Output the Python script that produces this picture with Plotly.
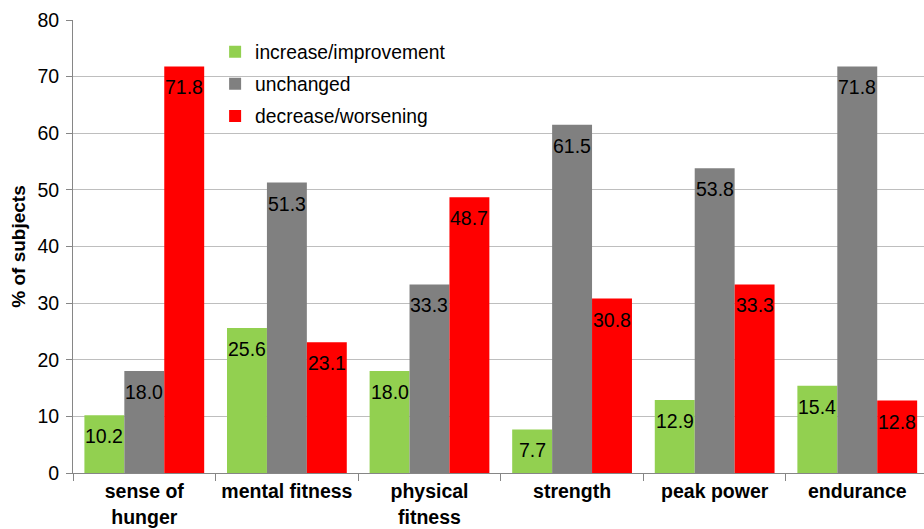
import plotly.graph_objects as go

categories = ["sense of<br>hunger", "mental fitness", "physical<br>fitness", "strength", "peak power", "endurance"]
increase = [10.2, 25.6, 18.0, 7.7, 12.9, 15.4]
unchanged = [18.0, 51.3, 33.3, 61.5, 53.8, 71.8]
decrease = [71.8, 23.1, 48.7, 30.8, 33.3, 12.8]
series_names = ["increase/improvement", "unchanged", "decrease/worsening"]
colors = ["#92D050", "#808080", "#FF0000"]
y_ticks = [0, 10, 20, 30, 40, 50, 60, 70, 80]

FONT = "Liberation Sans, Arial, sans-serif"
BARGAP = 0.16

fig = go.Figure()
all_series = [increase, unchanged, decrease]
for name, vals, col in zip(series_names, all_series, colors):
    fig.add_trace(go.Bar(
        x=categories, y=vals, name=name, marker=dict(color=col, line=dict(width=0)),
        legendgroup=name,
    ))

# data labels placed inside the top of each bar
n = len(all_series)
w = (1 - BARGAP) / n
annotations = []
for s, vals in enumerate(all_series):
    for i, v in enumerate(vals):
        annotations.append(dict(
            x=i + (s - (n - 1) / 2) * w, y=v, xref="x", yref="y",
            text=f"{v:.1f}", showarrow=False, yanchor="middle", yshift=-21,
            font=dict(size=19.5, color="black", family=FONT),
        ))

fig.update_layout(
    width=924, height=529,
    margin=dict(l=73, r=0, t=20, b=56),
    paper_bgcolor="white", plot_bgcolor="white",
    barmode="group", bargap=BARGAP, bargroupgap=0,
    font=dict(family=FONT, size=19, color="black"),
    showlegend=True,
    annotations=annotations,
    legend=dict(x=0.167, y=0.972, xanchor="left", yanchor="top",
                bgcolor="rgba(0,0,0,0)", font=dict(size=19.3, family=FONT),
                traceorder="grouped", tracegroupgap=4, itemwidth=30),
    xaxis=dict(range=[-0.5, 5.468], showline=True, linecolor="#868686", linewidth=1,
               ticks="outside", tickson="boundaries", ticklen=7, tickcolor="#868686",
               tickfont=dict(size=19.5, family=FONT, color="black"),
               ticklabelstandoff=1, showgrid=False, automargin=False,
               tickprefix="<b>", ticksuffix="</b>"),
    yaxis=dict(range=[0, 80], tickvals=y_ticks, showline=True, linecolor="#868686", linewidth=1,
               ticks="outside", ticklen=6, tickcolor="#868686", gridcolor="#BEBEBE", gridwidth=1,
               tickfont=dict(size=19.5, family=FONT, color="black"), ticklabelstandoff=3,
               title=dict(text="<b>% of subjects</b>", font=dict(size=19, family=FONT), standoff=6),
               zeroline=False, automargin=False),
)

fig.write_html("out.html")
